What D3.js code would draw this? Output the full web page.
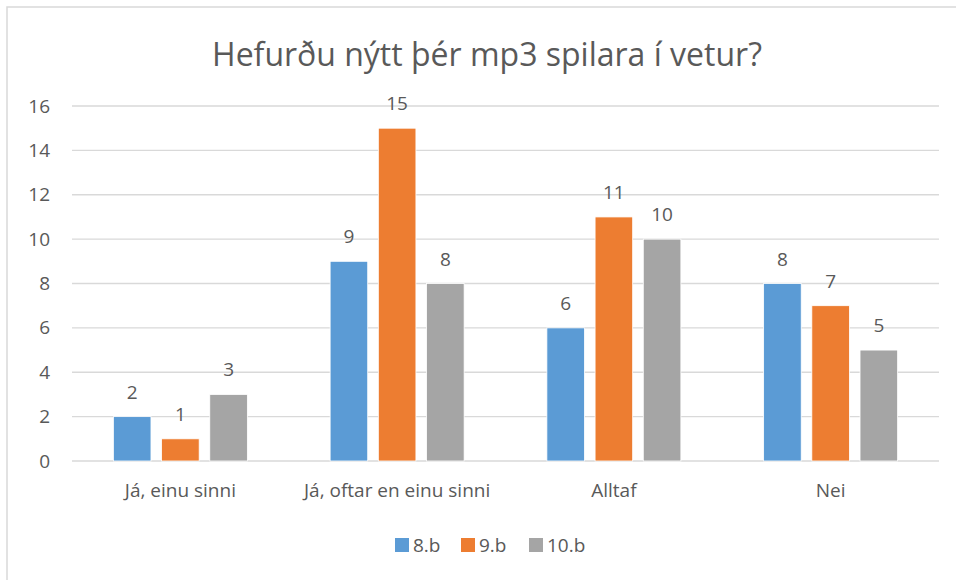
<!DOCTYPE html>
<html><head><meta charset="utf-8">
<script src="https://cdn.jsdelivr.net/npm/d3@7"></script>
<style>
body{margin:0;background:#fff;}
text{font-family:"Open Sans","Noto Sans",sans-serif;fill:#595959;}
</style></head>
<body>
<svg id="chart" width="956" height="580"></svg>
<script>
const title = "Hefurðu nýtt þér mp3 spilara í vetur?";
const categories = ["Já, einu sinni", "Já, oftar en einu sinni", "Alltaf", "Nei"];
const seriesNames = ["8.b", "9.b", "10.b"];
const values8b = [2, 9, 6, 8];
const values9b = [1, 15, 11, 7];
const values10b = [3, 8, 10, 5];
const colors = ["#5B9BD5", "#ED7D31", "#A5A5A5"];
const yTicks = [0, 2, 4, 6, 8, 10, 12, 14, 16];

const seriesValues = [values8b, values9b, values10b];
const svg = d3.select("#chart");
const FS = 19;

// frame
svg.append("rect").attr("x", 7).attr("y", 7).attr("width", 960).attr("height", 590)
  .attr("fill", "none").attr("stroke", "#D9D9D9").attr("stroke-width", 1.5);

const pLeft = 72, pRight = 939, pTop = 106, pBottom = 461;
const y = d3.scaleLinear().domain([0, 16]).range([pBottom, pTop]);
const x0 = d3.scaleBand().domain(categories).range([pLeft, pRight]).padding(0);
const groupW = 134;
const x1 = d3.scaleBand().domain(seriesNames)
  .range([(x0.bandwidth() - groupW) / 2, (x0.bandwidth() + groupW) / 2])
  .paddingInner(0.22).paddingOuter(0);

// gridlines
svg.append("g").selectAll("line").data(yTicks).join("line")
  .attr("x1", pLeft).attr("x2", pRight)
  .attr("y1", d => y(d)).attr("y2", d => y(d))
  .attr("stroke", "#D9D9D9").attr("stroke-width", 1.3);

// y axis labels
const yAxis = d3.axisLeft(y).tickValues(yTicks).tickSize(0).tickPadding(0);
const ya = svg.append("g").attr("transform", `translate(50,0)`).call(yAxis);
ya.select(".domain").remove();
ya.selectAll("text").attr("font-size", FS).attr("fill", "#595959")
  .attr("font-family", '"Open Sans","Noto Sans",sans-serif');

// x axis labels
const xAxis = d3.axisBottom(x0).tickSize(0).tickPadding(0);
const xa = svg.append("g").attr("transform", `translate(0,${pBottom + 22})`).call(xAxis);
xa.select(".domain").remove();
xa.selectAll("text").attr("font-size", FS).attr("fill", "#595959")
  .attr("font-family", '"Open Sans","Noto Sans",sans-serif');

// bars
const data = [];
categories.forEach((c, i) => seriesNames.forEach((s, j) => data.push({c, s, v: seriesValues[j][i], j})));
const g = svg.append("g");
g.selectAll("rect").data(data).join("rect")
  .attr("x", d => x0(d.c) + x1(d.s))
  .attr("y", d => y(d.v))
  .attr("width", x1.bandwidth())
  .attr("height", d => y(0) - y(d.v))
  .attr("fill", d => colors[d.j])
  .attr("stroke", "#fff").attr("stroke-width", 0.8);

g.selectAll("text").data(data).join("text")
  .attr("x", d => x0(d.c) + x1(d.s) + x1.bandwidth() / 2)
  .attr("y", d => y(d.v) - 18)
  .attr("text-anchor", "middle")
  .attr("font-size", FS)
  .text(d => d.v);

// title
svg.append("text").attr("x", 487).attr("y", 66).attr("text-anchor", "middle")
  .attr("font-size", 32).text(title);

// legend
const legendX = [395, 461, 529];
const lg = svg.append("g");
seriesNames.forEach((s, j) => {
  lg.append("rect").attr("x", legendX[j]).attr("y", 538).attr("width", 14).attr("height", 14).attr("fill", colors[j]);
  lg.append("text").attr("x", legendX[j] + 18).attr("y", 552).attr("font-size", FS).text(s);
});
</script>
</body></html>
